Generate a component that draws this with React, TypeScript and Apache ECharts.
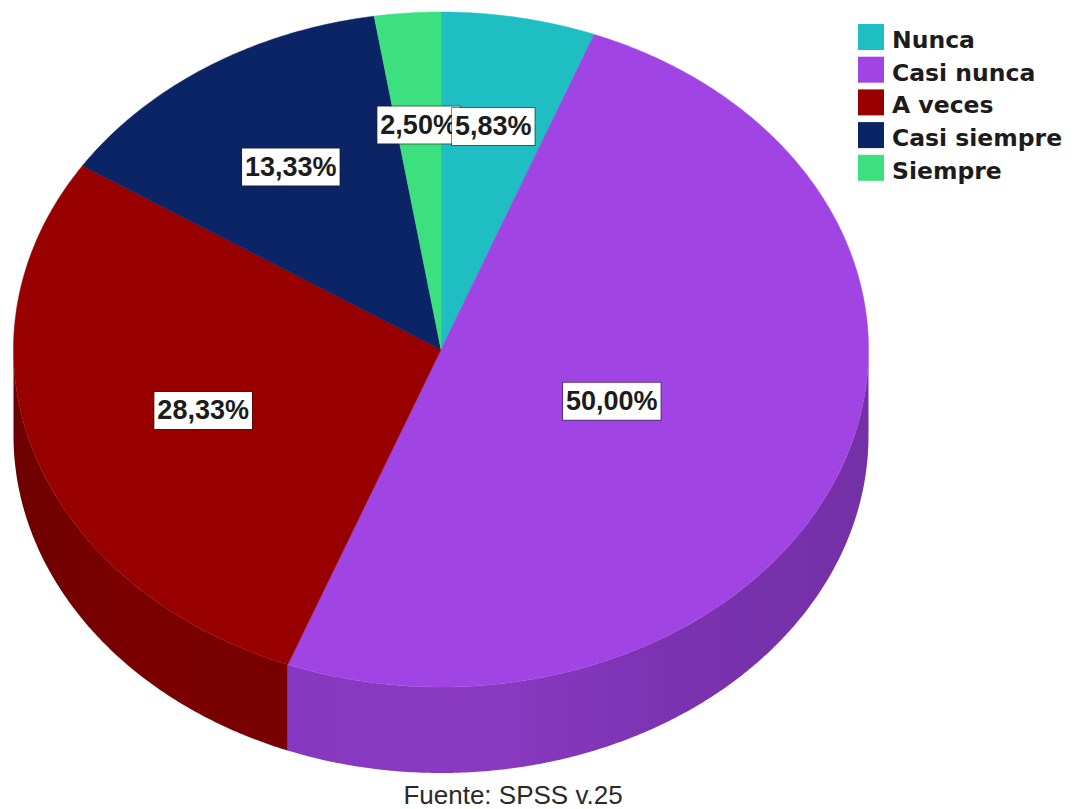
import React, { useEffect, useRef } from "react";
import * as echarts from "echarts";

const categories = ["Nunca", "Casi nunca", "A veces", "Casi siempre", "Siempre"];
const percentages = [5.83, 50.0, 28.33, 13.33, 2.5];
const caption = "Fuente: SPSS v.25";

const topColors = ["#1fbec3", "#a044e3", "#980000", "#0a2466", "#3de07e"];
const sideStops: (string[] | null)[] = [
  null,
  ["#8538bf", "#8a3ac2", "#7b32b0", "#7430a6"],
  ["#6c0000", "#7a0000", "#7a0000", "#780000"],
  null,
  null,
];
const labelReach = [0.672, 0.428, 0.585, 0.645, 0.667];

const CX = 441;
const CY = 349.5;
const RX = 427.5;
const RY = 337.5;
const DEPTH = 86;

const total = percentages.reduce((a, b) => a + b, 0);
const startOf = (i: number) =>
  (percentages.slice(0, i).reduce((a, b) => a + b, 0) / total) * 360;
const endOf = (i: number) => startOf(i) + (percentages[i] / total) * 360;
const pt = (deg: number, reach = 1, dy = 0): number[] => {
  const a = (deg * Math.PI) / 180;
  return [CX + RX * reach * Math.sin(a), CY - RY * reach * Math.cos(a) + dy];
};
const arc = (from: number, to: number, dy = 0): number[][] => {
  const n = Math.max(2, Math.ceil(Math.abs(to - from) * 2));
  const out: number[][] = [];
  for (let k = 0; k <= n; k++) out.push(pt(from + ((to - from) * k) / n, 1, dy));
  return out;
};
const pctText = (v: number) => v.toFixed(2).replace(".", ",") + "%";

function buildOption() {
  const sideSeries = {
    type: "custom",
    name: "lados",
    coordinateSystem: "none",
    silent: true,
    data: percentages.map((v) => [v]),
    renderItem: (params: any) => {
      const i = params.dataIndex;
      const from = Math.max(startOf(i), 90);
      const to = Math.min(endOf(i), 270);
      if (from >= to || !sideStops[i]) return { type: "group", children: [] };
      const stops = sideStops[i] as string[];
      return {
        type: "polygon",
        shape: { points: [...arc(from, to), ...arc(to, from, DEPTH)] },
        style: {
          fill: new echarts.graphic.LinearGradient(
            0, 0, 1, 0,
            stops.map((c, k) => ({ offset: k / (stops.length - 1), color: c }))
          ),
        },
      };
    },
  };
  const topSeries = categories.map((name, i) => ({
    type: "custom",
    name,
    coordinateSystem: "none",
    silent: true,
    itemStyle: { color: topColors[i] },
    data: [[percentages[i]]],
    renderItem: () => ({
      type: "polygon",
      shape: { points: [[CX, CY], ...arc(startOf(i), endOf(i))] },
      style: { fill: topColors[i], stroke: topColors[i], lineWidth: 0.5 },
    }),
  }));
  const order = percentages.map((_, i) => percentages.length - 1 - i);
  const labelSeries = {
    type: "custom",
    name: "etiquetas",
    coordinateSystem: "none",
    silent: true,
    z: 5,
    data: order.map((i) => [percentages[i], i]),
    renderItem: (_p: any, api: any) => {
      const i = api.value(1);
      const [x, y] = pt((startOf(i) + endOf(i)) / 2, labelReach[i]);
      return {
        type: "text",
        x,
        y,
        style: {
          text: pctText(percentages[i]),
          font: "bold 27px 'Liberation Sans', Arial, sans-serif",
          fill: "#1c1c1c",
          align: "center",
          verticalAlign: "middle",
          backgroundColor: "#ffffff",
          borderColor: "rgba(30,30,30,0.55)",
          borderWidth: 1,
          padding: [5, 3, 5, 3],
        },
      };
    },
  };
  return {
    animation: false,
    backgroundColor: "#ffffff",
    legend: {
      data: categories,
      orient: "vertical",
      left: 858,
      top: 24,
      itemWidth: 26,
      itemHeight: 26,
      itemGap: 4.7,
      padding: 0,
      selectedMode: false,
      icon: "rect",
      formatter: (name: string) => `{t|${name}}`,
      textStyle: {
        rich: {
          t: {
            fontFamily: "'DejaVu Sans', Verdana, sans-serif",
            fontWeight: "bold",
            fontSize: 23.5,
            color: "#1c1c1c",
            padding: [6, 0, 0, 3],
          },
        },
      },
    },
    title: {
      text: caption,
      left: 513,
      textAlign: "center",
      top: 782,
      padding: 0,
      textStyle: {
        fontFamily: "'Liberation Sans', Arial, sans-serif",
        fontWeight: "normal",
        fontSize: 26,
        color: "#2a2a2a",
      },
    },
    series: [sideSeries, ...topSeries, labelSeries],
  };
}

export default function App() {
  const ref = useRef<HTMLDivElement>(null);
  useEffect(() => {
    const chart = echarts.init(ref.current as HTMLDivElement, null, { renderer: "svg" });
    chart.setOption(buildOption() as any);
    return () => chart.dispose();
  }, []);
  return (
    <div
      ref={ref}
      style={{ position: "fixed", left: 0, top: 0, width: 1074, height: 809, background: "#fff" }}
    />
  );
}
